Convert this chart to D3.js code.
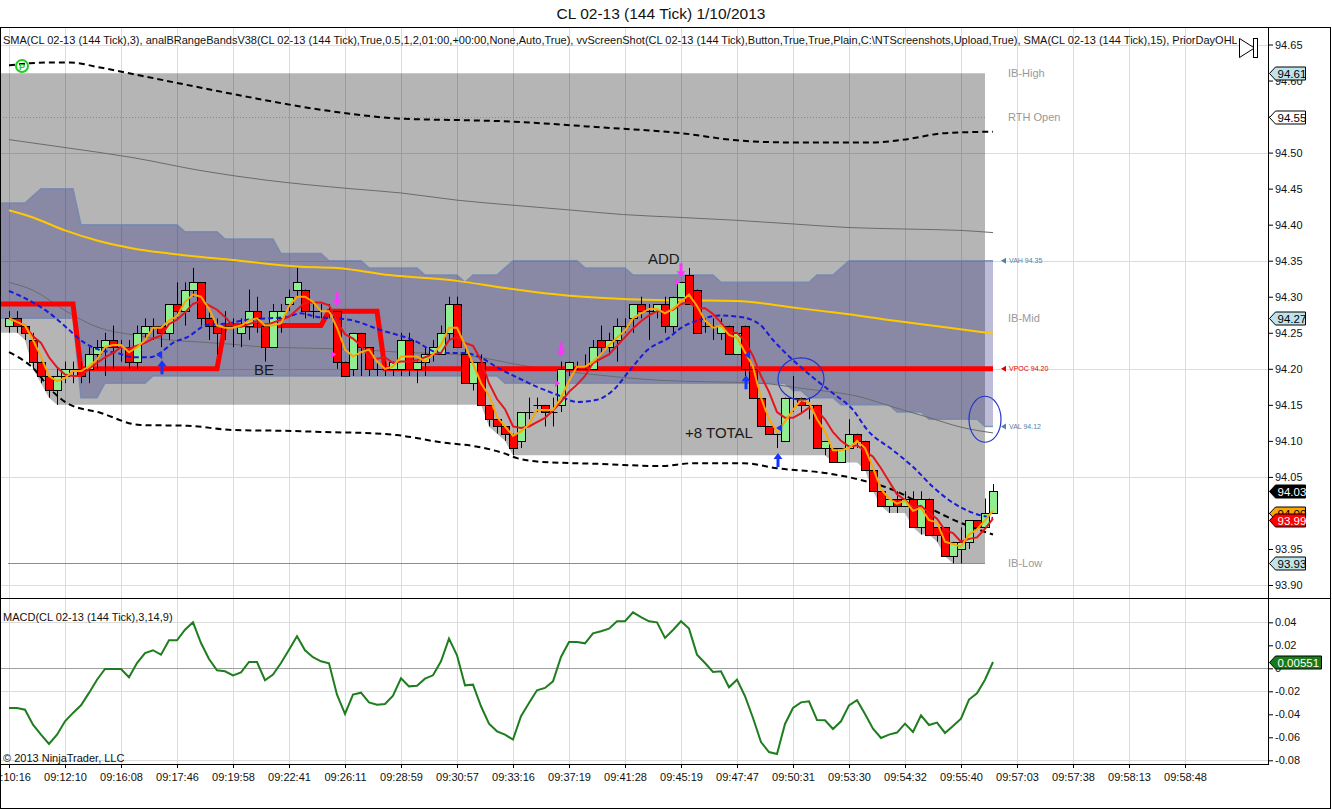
<!DOCTYPE html>
<html>
<head>
<meta charset="utf-8">
<script src="https://cdn.jsdelivr.net/npm/d3@7"></script>
<style>
  body { margin: 0; background: #fff; }
  text { font-family: "Liberation Sans", Arial, sans-serif; }
</style>
</head>
<body>
<div id="chart"></div>
<script>
// ---- data ----
var opens = [94.26,94.27,94.26,94.24,94.21,94.19,94.17,94.19,94.20,94.20, 94.20,94.22,94.23,94.24,94.23,94.23,94.21,94.25,94.26,94.26,
  94.25,94.29,94.28,94.31,94.32,94.27,94.26,94.26,94.26,94.25, 94.26,94.28,94.26,94.23,94.27,94.29,94.31,94.31,94.28,94.28,
  94.28,94.28,94.21,94.20,94.25,94.23,94.20,94.20,94.20,94.20, 94.24,94.20,94.21,94.22,94.22,94.25,94.29,94.22,94.18,94.21,
  94.15,94.13,94.12,94.11,94.10,94.14,94.15,94.15,94.14,94.15, 94.20,94.20,94.20,94.20,94.24,94.23,94.24,94.26,94.27,94.29,
  94.28,94.28,94.29,94.26,94.30,94.33,94.31,94.26,94.26,94.25, 94.26,94.22,94.26,94.20,94.16,94.12,94.11,94.10,94.16,94.16,
  94.15,94.15,94.09,94.09,94.07,94.09,94.11,94.10,94.06,94.03, 94.01,94.02,94.01,94.02,93.98,94.02,93.98,93.98,93.94,93.95,
  93.96,93.99,93.98,94.00];
var highs = [94.28,94.28,94.26,94.25,94.21,94.19,94.20,94.21,94.21,94.21, 94.23,94.24,94.25,94.26,94.24,94.24,94.26,94.27,94.27,94.26,
  94.29,94.32,94.32,94.34,94.32,94.28,94.27,94.28,94.27,94.27, 94.31,94.30,94.26,94.29,94.29,94.31,94.34,94.31,94.29,94.29,
  94.29,94.28,94.21,94.25,94.25,94.23,94.21,94.21,94.21,94.25, 94.25,94.21,94.23,94.24,94.26,94.30,94.30,94.23,94.21,94.22,
  94.15,94.13,94.12,94.11,94.14,94.16,94.16,94.15,94.16,94.21, 94.21,94.21,94.22,94.24,94.26,94.25,94.27,94.27,94.29,94.30,
  94.29,94.29,94.30,94.30,94.32,94.34,94.31,94.27,94.27,94.27, 94.26,94.25,94.26,94.20,94.16,94.12,94.11,94.16,94.19,94.16,
  94.16,94.15,94.10,94.09,94.09,94.13,94.11,94.10,94.06,94.03, 94.02,94.03,94.03,94.03,94.03,94.02,93.98,93.98,93.96,93.98,
  93.99,93.99,94.02,94.04];
var lows = [94.25,94.25,94.24,94.20,94.18,94.16,94.15,94.18,94.18,94.18, 94.18,94.20,94.19,94.20,94.21,94.20,94.20,94.24,94.24,94.23,
  94.24,94.27,94.26,94.30,94.26,94.24,94.22,94.24,94.23,94.23, 94.24,94.25,94.21,94.23,94.25,94.28,94.30,94.27,94.27,94.27,
  94.27,94.20,94.19,94.19,94.19,94.19,94.19,94.19,94.19,94.19, 94.19,94.18,94.19,94.21,94.22,94.24,94.23,94.18,94.17,94.15,
  94.12,94.11,94.10,94.08,94.09,94.13,94.14,94.12,94.12,94.14, 94.19,94.20,94.20,94.20,94.22,94.22,94.21,94.25,94.25,94.27,
  94.24,94.27,94.25,94.25,94.30,94.29,94.25,94.25,94.24,94.24, 94.22,94.22,94.19,94.16,94.12,94.11,94.09,94.10,94.14,94.14,
  94.13,94.09,94.08,94.07,94.07,94.09,94.09,94.06,94.03,94.01, 94.00,94.00,94.01,93.98,93.97,93.97,93.96,93.94,93.93,93.93,
  93.95,93.98,93.98,94.00];
var closes = [94.27,94.26,94.25,94.21,94.19,94.17,94.19,94.20,94.20,94.19, 94.22,94.23,94.24,94.23,94.23,94.21,94.25,94.26,94.26,94.25,
  94.29,94.28,94.31,94.32,94.27,94.26,94.25,94.26,94.26,94.26, 94.28,94.27,94.23,94.28,94.28,94.30,94.32,94.28,94.28,94.28,
  94.28,94.21,94.19,94.25,94.23,94.20,94.20,94.20,94.21,94.24, 94.20,94.21,94.22,94.23,94.25,94.29,94.23,94.18,94.21,94.15,
  94.13,94.12,94.11,94.09,94.14,94.14,94.15,94.14,94.14,94.20, 94.21,94.20,94.20,94.23,94.23,94.24,94.26,94.26,94.29,94.28,
  94.28,94.29,94.26,94.30,94.32,94.29,94.25,94.26,94.26,94.26, 94.22,94.25,94.20,94.16,94.12,94.11,94.11,94.16,94.16,94.15,
  94.15,94.09,94.10,94.07,94.09,94.11,94.10,94.06,94.03,94.01, 94.02,94.01,94.02,93.98,94.02,93.97,93.97,93.94,93.96,93.96,
  93.99,93.98,94.00,94.03];

// SMA(3) orange and the red short average
var smaFast = [94.270,94.265,94.260,94.240,94.217,94.190,94.183,94.187,94.197,94.197, 94.203,94.213,94.230,94.233,94.233,94.223,94.230,94.240,94.257,94.257,
  94.267,94.273,94.293,94.303,94.300,94.283,94.260,94.257,94.257,94.260, 94.267,94.270,94.260,94.260,94.263,94.287,94.300,94.300,94.293,94.280,
  94.280,94.257,94.227,94.217,94.223,94.227,94.210,94.200,94.203,94.217, 94.217,94.217,94.210,94.220,94.233,94.257,94.257,94.233,94.207,94.180,
  94.163,94.133,94.120,94.107,94.113,94.123,94.143,94.143,94.143,94.160, 94.183,94.203,94.203,94.210,94.220,94.233,94.243,94.253,94.270,94.277,
  94.283,94.283,94.277,94.283,94.293,94.303,94.287,94.267,94.257,94.260, 94.247,94.243,94.223,94.203,94.160,94.130,94.113,94.127,94.143,94.157,
  94.153,94.130,94.113,94.087,94.087,94.090,94.100,94.090,94.063,94.033, 94.020,94.013,94.017,94.003,94.007,93.990,93.987,93.960,93.957,93.953,
  93.970,93.977,93.990,94.003];
var smaRed = [94.270,94.265,94.260,94.245,94.236,94.216,94.202,94.192,94.190,94.190, 94.200,94.208,94.216,94.222,94.230,94.228,94.232,94.236,94.242,94.246,
  94.262,94.268,94.278,94.290,94.294,94.288,94.282,94.272,94.260,94.258, 94.262,94.266,94.260,94.264,94.268,94.272,94.282,94.292,94.292,94.292,
  94.288,94.266,94.248,94.242,94.232,94.216,94.214,94.216,94.208,94.210, 94.210,94.212,94.216,94.220,94.222,94.240,94.244,94.236,94.232,94.212,
  94.180,94.158,94.144,94.120,94.118,94.120,94.126,94.132,94.142,94.154, 94.168,94.178,94.190,94.208,94.214,94.220,94.232,94.244,94.256,94.266,
  94.274,94.280,94.280,94.282,94.290,94.292,94.284,94.284,94.276,94.264, 94.250,94.250,94.238,94.218,94.190,94.168,94.140,94.132,94.132,94.138,
  94.146,94.142,94.130,94.112,94.100,94.092,94.094,94.086,94.078,94.062, 94.044,94.026,94.018,94.008,94.010,94.000,93.992,93.976,93.972,93.960,
  93.964,93.966,93.978,93.992];

// smoother lines, sampled as [bar, price]
var smaBlue = [[0,94.308],[3,94.292],[5.1,94.277],[7.3,94.256],[9.3,94.237],[11.4,94.226],[13.5,94.222],[15.5,94.216],[17.6,94.216],[18.9,94.222],
  [20.5,94.236],[22.3,94.244],[24.8,94.261],[27.3,94.263],[29.8,94.268],[32.3,94.270],[34.8,94.272],[36.4,94.277],[38.5,94.272],[40.5,94.270],
  [42.6,94.268],[46.4,94.254],[50.5,94.240],[53.9,94.222],[56.8,94.222],[58.9,94.216],[61,94.202],[63.5,94.188],[66,94.175],[68.5,94.164],
  [71,94.154],[73.5,94.157],[75.5,94.170],[77.6,94.198],[79.8,94.226],[82.6,94.244],[83.9,94.256],[86.4,94.268],[88.9,94.274],[91.4,94.272],
  [93.9,94.261],[95.5,94.240],[98,94.212],[100.5,94.188],[103,94.166],[105.5,94.143],[107.3,94.115],[110.5,94.087],[113,94.064],[115.5,94.036],
  [118,94.014],[120.5,94.000],[123,93.993]];
var smaGold = [[0,94.42],[3,94.41],[7,94.392],[11,94.378],[15.5,94.367],[20,94.360],[24,94.355],[28,94.351],[32,94.346],[36,94.342],
  [41,94.340],[47.6,94.330],[56,94.322],[62,94.312],[70.5,94.301],[76.8,94.297],[84,94.295],[91,94.294],[98,94.285],[104,94.277],
  [110.5,94.267],[116.8,94.258],[123,94.249]];
var grayUpper = [[0,94.518],[7,94.507],[15.5,94.493],[24,94.475],[32,94.462],[42.6,94.450],[49,94.444],[56,94.434],[63,94.427],[70.5,94.420],
  [76.8,94.414],[84,94.410],[91,94.406],[98,94.401],[105,94.396],[111.8,94.394],[119,94.392],[123,94.389]];
var grayLower = [[0,94.320],[3,94.309],[7,94.281],[11,94.258],[15.5,94.247],[20,94.240],[24,94.237],[28,94.234],[32,94.230],[36,94.229],
  [42.6,94.227],[49,94.223],[57,94.219],[64,94.205],[74,94.191],[81.4,94.184],[94,94.180],[99,94.173],[106.4,94.161],[110.5,94.147],
  [114.8,94.133],[119,94.119],[123,94.111]];
var bandUpper = [[0,94.621],[2.6,94.624],[5,94.625],[7.6,94.625],[11.4,94.618],[16.4,94.607],[24,94.590],[30,94.577],[36.4,94.564],[42.6,94.554],
  [49,94.547],[56.8,94.545],[63,94.543],[68.9,94.539],[74,94.535],[84,94.527],[91,94.517],[98,94.514],[108,94.514],[111.8,94.518],
  [117,94.527],[123,94.529]];
var bandLower = [[0,94.223],[3,94.201],[5.5,94.168],[7.3,94.152],[11.4,94.139],[16.4,94.122],[22.3,94.121],[28,94.115],[34.3,94.114],[40.5,94.112],
  [44.3,94.111],[48.5,94.108],[54,94.098],[59,94.091],[61.8,94.083],[63.5,94.076],[66.4,94.071],[74,94.068],[81.4,94.065],[85.5,94.069],
  [91.8,94.069],[96,94.062],[102.3,94.055],[106.4,94.046],[110.5,94.032],[114.8,94.008],[119,93.986],[123,93.970]];

// range bands: steps as [first bar, value]
var ibHigh = 94.61;
var ibLowSteps = [[0,94.25],[2,94.24],[3,94.20],[4,94.18],[5,94.16],[6,94.15],[60,94.12],[61,94.11],[62,94.10],[63,94.08],
  [103,94.07],[107,94.06],[108,94.03],[109,94.01],[110,94.00],[113,93.98],[114,93.97],[116,93.96],[117,93.94],[118,93.93]];
var vahSteps = [[0,94.43],[3,94.44],[4,94.45],[9,94.40],[22,94.39],[27,94.38],[34,94.36],[40,94.35],[45,94.34],[52,94.33],
  [57,94.32],[58,94.33],[62,94.34],[63,94.35],[72,94.34],[78,94.33],[89,94.32],[101,94.33],[104,94.34],[105,94.35]];
var valSteps = [[0,94.27],[9,94.16],[12,94.18],[18,94.19],[62,94.18],[98,94.17],[100,94.16],[104,94.15],[111,94.14],[115,94.13],[122,94.12]];
var vpocSteps = [[0,94.29],[9,94.20],[27,94.26],[40,94.28],[47,94.20]];

var macdVals = [-0.0345,-0.0345,-0.036,-0.049,-0.0577,-0.0658,-0.0577,-0.0461,-0.0388,-0.0322,
  -0.0214,-0.0099,-0.0006,-0.0006,-0.0006,-0.0078,0.0046,0.0133,0.0157,0.0119,
  0.0243,0.0243,0.0336,0.040,0.022,0.0081,-0.0017,-0.0026,-0.0061,-0.0035,
  0.0055,0.0055,-0.0104,-0.0055,0.0046,0.0162,0.0278,0.0157,0.0096,0.0061,
  0.0043,-0.0229,-0.0397,-0.0229,-0.0212,-0.0296,-0.0316,-0.031,-0.0238,-0.0087,
  -0.0157,-0.0151,-0.009,-0.0061,0.0061,0.0258,0.0113,-0.0148,-0.0142,-0.033,
  -0.0481,-0.0548,-0.0577,-0.062,-0.0417,-0.0301,-0.0191,-0.0171,-0.0113,0.0099,
  0.0229,0.0229,0.0217,0.0304,0.0322,0.0345,0.0409,0.0409,0.0487,0.0446,
  0.0409,0.040,0.0264,0.0333,0.0409,0.0345,0.0119,0.0046,-0.0032,-0.0026,
  -0.0165,-0.0099,-0.0243,-0.0432,-0.0641,-0.0728,-0.0745,-0.0484,-0.0345,-0.0296,
  -0.0287,-0.0449,-0.0452,-0.0528,-0.0461,-0.0322,-0.0278,-0.0397,-0.0525,-0.0606,
  -0.0577,-0.0559,-0.0481,-0.0554,-0.0409,-0.0493,-0.0472,-0.0562,-0.0501,-0.0438,
  -0.0272,-0.0217,-0.0099,0.00551];

var timeLabels = ["09:10:16","09:12:10","09:16:08","09:17:46","09:19:58","09:22:41","09:26:11","09:28:59","09:30:57","09:33:16","09:37:19",
  "09:41:28","09:45:19","09:47:47","09:50:31","09:53:30","09:54:32","09:55:40","09:57:03","09:57:38","09:58:13","09:58:48"];
var timeTickBars = timeLabels.map(function(d, i) { return i * 7; });
var priceTicks = [93.90,93.95,94.00,94.05,94.10,94.15,94.20,94.25,94.30,94.35,94.40,94.45,94.50,94.55,94.60,94.65];
var priceGrid = [93.90,94.05,94.20,94.35,94.50,94.65];
var macdTicks = [-0.08,-0.06,-0.04,-0.02,0,0.02,0.04];
var macdGrid = [-0.08,-0.02,0.04];

var pinkArrowBars = [41, 69, 84];
var pinkFillPrices = [94.22, 94.18, 94.32];
var blueArrowBars = [19, 92, 96];
var blueArrowTops = [94.212, 94.191, 94.083];
var blueFillMarks = [[18.9, 94.219], [92.4, 94.219], [96.4, 94.118]];
var circleMarks = [[99, 94.186], [122, 94.13]];

// ---- layout ----
var axisX = 1268, mainTop = 28, mainBottom = 598, macdBottom = 764;

var svg = d3.select("#chart").append("svg")
  .attr("width", 1332).attr("height", 810)
  .style("display", "block");

svg.append("rect").attr("width", 1332).attr("height", 810).attr("fill", "#fff");

var x = d3.scaleLinear().domain([0, 123]).range([9, 993]);
var y = d3.scaleLinear().domain([93.90, 94.65]).range([585, 44.5]);
var ym = d3.scaleLinear().domain([-0.08, 0.04]).range([760.3, 622.3]);

var defs = svg.append("defs");
defs.append("clipPath").attr("id", "clipMain").append("rect")
  .attr("x", 0).attr("y", mainTop).attr("width", axisX).attr("height", mainBottom - mainTop);
defs.append("clipPath").attr("id", "clipMacd").append("rect")
  .attr("x", 0).attr("y", mainBottom).attr("width", axisX).attr("height", macdBottom - mainBottom);

function stepAt(steps, i) {
  var v = steps[0][1];
  steps.forEach(function(s) { if (s[0] <= i) v = s[1]; });
  return v;
}
function crisp(v) { return Math.round(v) + 0.5; }

// title
svg.append("text").attr("x", 661).attr("y", 19).attr("text-anchor", "middle")
  .attr("font-size", 15.5).attr("fill", "#111").text("CL 02-13 (144 Tick)  1/10/2013");

// vertical grid through both panels
svg.append("g").selectAll("line").data(timeTickBars).join("line")
  .attr("x1", function(d) { return crisp(x(d)); }).attr("x2", function(d) { return crisp(x(d)); })
  .attr("y1", mainTop).attr("y2", macdBottom)
  .attr("stroke", "#dcdcdc").attr("stroke-width", 1);

var main = svg.append("g").attr("clip-path", "url(#clipMain)");

main.selectAll(".hgrid").data(priceGrid).join("line").attr("class", "hgrid")
  .attr("x1", 0).attr("x2", axisX)
  .attr("y1", function(d) { return crisp(y(d)); }).attr("y2", function(d) { return crisp(y(d)); })
  .attr("stroke", "#dcdcdc");

// initial balance box
var ibPts = [-1.125].concat(d3.range(0, 123));
main.append("path")
  .attr("d", d3.area()
    .x(function(d) { return x(d); })
    .y0(function(d) { return y(stepAt(ibLowSteps, Math.max(0, d))); })
    .y1(y(ibHigh))(ibPts))
  .attr("fill", "rgba(0,0,0,0.29)");

// RTH open dotted and IB low line
main.append("line").attr("x1", 0).attr("x2", x(122))
  .attr("y1", crisp(y(94.55))).attr("y2", crisp(y(94.55)))
  .attr("stroke", "#777").attr("stroke-dasharray", "1,2").attr("opacity", 0.7);
main.append("line").attr("x1", 8).attr("x2", x(122))
  .attr("y1", crisp(y(93.93))).attr("y2", crisp(y(93.93)))
  .attr("stroke", "#8c8c8c");

// value area band
var vaPts = [-1.125].concat(d3.range(0, 124));
main.append("path")
  .attr("d", d3.area()
    .x(function(d) { return x(d); })
    .y0(function(d) { return y(stepAt(valSteps, Math.max(0, d))); })
    .y1(function(d) { return y(stepAt(vahSteps, Math.max(0, d))); })(vaPts))
  .attr("fill", "rgba(39,39,129,0.31)");
[vahSteps, valSteps].forEach(function(st) {
  main.append("path")
    .attr("d", d3.line().x(function(d) { return x(d); })
      .y(function(d) { return y(stepAt(st, Math.max(0, d))); })(vaPts))
    .attr("fill", "none").attr("stroke", "#6f86b0").attr("stroke-width", 1.5).attr("opacity", 0.8);
});

var smooth = d3.line().x(function(d) { return x(d[0]); }).y(function(d) { return y(d[1]); }).curve(d3.curveMonotoneX);

main.append("path").attr("d", smooth(grayUpper)).attr("fill", "none").attr("stroke", "#6b6b6b").attr("stroke-width", 1);
main.append("path").attr("d", smooth(grayLower)).attr("fill", "none").attr("stroke", "#6b6b6b").attr("stroke-width", 1);
main.append("path").attr("d", smooth(smaGold)).attr("fill", "none").attr("stroke", "#ffc800").attr("stroke-width", 2);
main.append("path").attr("d", smooth(bandUpper)).attr("fill", "none").attr("stroke", "#000")
  .attr("stroke-width", 2).attr("stroke-dasharray", "6,4");
main.append("path").attr("d", smooth(bandLower)).attr("fill", "none").attr("stroke", "#000")
  .attr("stroke-width", 2).attr("stroke-dasharray", "6,4");

// developing POC
main.append("path")
  .attr("d", d3.line().x(function(d) { return x(d); })
    .y(function(d) { return y(stepAt(vpocSteps, Math.max(0, d))); })(vaPts))
  .attr("fill", "none").attr("stroke", "#ff0000").attr("stroke-width", 5);

// candles
var bars = d3.range(opens.length);
var candles = main.append("g");
candles.selectAll(".wick").data(bars).join("line").attr("class", "wick")
  .attr("x1", function(i) { return crisp(x(i)); }).attr("x2", function(i) { return crisp(x(i)); })
  .attr("y1", function(i) { return y(highs[i]); }).attr("y2", function(i) { return y(lows[i]); })
  .attr("stroke", "#000").attr("stroke-width", 1);
candles.selectAll(".body").data(bars.filter(function(i) { return opens[i] !== closes[i]; })).join("rect").attr("class", "body")
  .attr("x", function(i) { return Math.round(x(i)) - 3.5; })
  .attr("width", 8)
  .attr("y", function(i) { return crisp(y(Math.max(opens[i], closes[i]))); })
  .attr("height", function(i) { return Math.max(1, Math.round(y(Math.min(opens[i], closes[i]))) - Math.round(y(Math.max(opens[i], closes[i])))); })
  .attr("fill", function(i) { return closes[i] > opens[i] ? "#90ee90" : "#ff0000"; })
  .attr("stroke", "#000").attr("stroke-width", 1);
candles.selectAll(".doji").data(bars.filter(function(i) { return opens[i] === closes[i]; })).join("line").attr("class", "doji")
  .attr("x1", function(i) { return Math.round(x(i)) - 3.5; }).attr("x2", function(i) { return Math.round(x(i)) + 4.5; })
  .attr("y1", function(i) { return crisp(y(opens[i])); }).attr("y2", function(i) { return crisp(y(opens[i])); })
  .attr("stroke", "#000");

// moving averages over bars
main.append("path").attr("d", smooth(smaBlue)).attr("fill", "none").attr("stroke", "#1a1ad8")
  .attr("stroke-width", 2).attr("stroke-dasharray", "5,3");
var perBar = d3.line().x(function(d, i) { return x(i); }).y(function(d) { return y(d); });
main.append("path").attr("d", perBar(smaRed)).attr("fill", "none").attr("stroke", "#e8141c").attr("stroke-width", 2);
main.append("path").attr("d", perBar(smaFast)).attr("fill", "none").attr("stroke", "#ffa500").attr("stroke-width", 2);

// trade markers
pinkArrowBars.forEach(function(b, k) {
  var cx = x(b), tip = y(highs[b]) - 5;
  main.append("path")
    .attr("d", "M" + (cx - 1.5) + "," + (tip - 14) + "h3v8h3l-4.5,6l-4.5,-6h3z")
    .attr("fill", "#ff33ff");
  var py = y(pinkFillPrices[k]);
  main.append("path").attr("d", "M" + (cx - 6) + "," + (py - 4) + "l5,4l-5,4z").attr("fill", "#ff33ff");
});
blueArrowBars.forEach(function(b, k) {
  var cx = x(b) + 1, top = y(blueArrowTops[k]);
  main.append("path")
    .attr("d", "M" + cx + "," + top + "l4.5,6h-3v8h-3v-8h-3z")
    .attr("fill", "#1733ff");
});
blueFillMarks.forEach(function(m) {
  var cx = x(m[0]), cy = y(m[1]);
  main.append("path").attr("d", "M" + (cx - 4) + "," + cy + "l6,-4l0,8z").attr("fill", "#1733ff");
});
circleMarks.forEach(function(m, k) {
  main.append("ellipse").attr("cx", x(m[0])).attr("cy", y(m[1]))
    .attr("rx", k === 0 ? 23 : 16).attr("ry", k === 0 ? 21 : 23)
    .attr("fill", "none").attr("stroke", "#2233cc").attr("stroke-width", 1.2);
});

// chart notes
var notes = [["ADD", 648, 264], ["BE", 254, 375], ["+8 TOTAL", 685, 438]];
main.selectAll(".note").data(notes).join("text").attr("class", "note")
  .attr("x", function(d) { return d[1]; }).attr("y", function(d) { return d[2]; })
  .attr("font-size", 15).attr("fill", "#1a1a1a").text(function(d) { return d[0]; });

// prior day marker
main.append("circle").attr("cx", 22).attr("cy", 66).attr("r", 6).attr("fill", "none")
  .attr("stroke", "#22cc22").attr("stroke-width", 2);
main.append("text").attr("x", 22).attr("y", 69.5).attr("text-anchor", "middle")
  .attr("font-size", 9).attr("font-weight", "bold").attr("fill", "#22cc22").text("P");

// right-hand level labels
var levelLabels = [["IB-High", 94.61], ["RTH Open", 94.55], ["IB-Mid", 94.27], ["IB-Low", 93.93]];
main.selectAll(".lvl").data(levelLabels).join("text").attr("class", "lvl")
  .attr("x", 1008).attr("y", function(d) { return y(d[1]) + 4; })
  .attr("font-size", 11).attr("fill", "#999").text(function(d) { return d[0]; });
var vaLabels = [["VAH 94.35", 94.35, "#5a7da8"], ["VPOC 94.20", 94.20, "#e00000"], ["VAL 94.12", 94.12, "#5a7da8"]];
vaLabels.forEach(function(d) {
  var yy = y(d[1]);
  main.append("path").attr("d", "M1001," + yy + "l5,-3v6z").attr("fill", d[2]);
  main.append("text").attr("x", 1009).attr("y", yy + 2.5).attr("font-size", 7).attr("fill", d[2]).text(d[0]);
});

// indicator caption, stopping at the screenshot button
defs.append("clipPath").attr("id", "clipCaption").append("rect")
  .attr("x", 0).attr("y", 30).attr("width", 1237).attr("height", 20);
main.append("text").attr("x", 3).attr("y", 44).attr("font-size", 11).attr("fill", "#111")
  .attr("clip-path", "url(#clipCaption)")
  .text("SMA(CL 02-13 (144 Tick),3), analBRangeBandsV38(CL 02-13 (144 Tick),True,0.5,1,2,01:00,+00:00,None,Auto,True), vvScreenShot(CL 02-13 (144 Tick),Button,True,True,Plain,C:\\NTScreenshots,Upload,True), SMA(CL 02-13 (144 Tick),15), PriorDayOHLC(CL 02-13 (144 Tick))");
main.append("path").attr("d", "M1239.5,38.5V57.5L1254.5,48Z").attr("fill", "#fff").attr("stroke", "#000");
main.append("rect").attr("x", 1253.5).attr("y", 38.5).attr("width", 4).attr("height", 19).attr("fill", "#fff").attr("stroke", "#000");

// ---- MACD panel ----
var macdG = svg.append("g").attr("clip-path", "url(#clipMacd)");
macdG.selectAll(".mgrid").data(macdGrid).join("line").attr("class", "mgrid")
  .attr("x1", 0).attr("x2", axisX)
  .attr("y1", function(d) { return crisp(ym(d)); }).attr("y2", function(d) { return crisp(ym(d)); })
  .attr("stroke", "#dcdcdc");
macdG.append("line").attr("x1", 0).attr("x2", axisX)
  .attr("y1", crisp(ym(0))).attr("y2", crisp(ym(0))).attr("stroke", "#a0a0a0");
macdG.append("path")
  .attr("d", d3.line().x(function(d, i) { return x(i); }).y(function(d) { return ym(d); })(macdVals))
  .attr("fill", "none").attr("stroke", "#1e7d1e").attr("stroke-width", 2);
macdG.append("text").attr("x", 3).attr("y", 621).attr("font-size", 11).attr("fill", "#111")
  .text("MACD(CL 02-13 (144 Tick),3,14,9)");
macdG.append("text").attr("x", 3).attr("y", 762).attr("font-size", 11).attr("fill", "#111")
  .text("\u00a9 2013 NinjaTrader, LLC");

// ---- axes ----
// tick labels hidden behind a flag are left out
var flagged = [94.55];
var yAxis = svg.append("g").attr("transform", "translate(" + axisX + ",0)")
  .call(d3.axisRight(y).tickValues(priceTicks).tickSize(5).tickSizeOuter(0).tickPadding(2)
    .tickFormat(function(d) { return flagged.indexOf(d) >= 0 ? "" : d.toFixed(2); }));
yAxis.select(".domain").remove();
var mAxis = svg.append("g").attr("transform", "translate(" + axisX + ",0)")
  .call(d3.axisRight(ym).tickValues(macdTicks).tickSize(5).tickSizeOuter(0).tickPadding(2)
    .tickFormat(function(d) { return d === 0 ? "0" : d.toFixed(2); }));
mAxis.select(".domain").remove();
var xAxis = svg.append("g").attr("transform", "translate(0," + macdBottom + ")")
  .call(d3.axisBottom(x).tickValues(timeTickBars).tickSize(4).tickSizeOuter(0).tickPadding(5)
    .tickFormat(function(d, i) { return timeLabels[i]; }));
xAxis.select(".domain").remove();
[yAxis, mAxis, xAxis].forEach(function(a) {
  a.attr("font-family", "'Liberation Sans', Arial, sans-serif").attr("font-size", 11);
  a.selectAll("text").attr("fill", "#111");
});

// frame lines
svg.append("line").attr("x1", 0).attr("x2", 1331).attr("y1", 27.5).attr("y2", 27.5).attr("stroke", "#000");
svg.append("line").attr("x1", 0).attr("x2", 1331).attr("y1", 598.5).attr("y2", 598.5).attr("stroke", "#000");
svg.append("line").attr("x1", 0).attr("x2", axisX).attr("y1", macdBottom + 0.5).attr("y2", macdBottom + 0.5).attr("stroke", "#000");
svg.append("line").attr("x1", axisX + 0.5).attr("x2", axisX + 0.5).attr("y1", 27).attr("y2", macdBottom + 1).attr("stroke", "#000");
svg.append("line").attr("x1", 0.5).attr("x2", 0.5).attr("y1", 27).attr("y2", 809).attr("stroke", "#000");
svg.append("line").attr("x1", 1330.5).attr("x2", 1330.5).attr("y1", 27).attr("y2", 809).attr("stroke", "#000");
svg.append("line").attr("x1", 0).attr("x2", 1331).attr("y1", 808.5).attr("y2", 808.5).attr("stroke", "#000");

// price flags
function flag(yy, label, fill, textFill, w) {
  var g = svg.append("g");
  var yc = Math.round(yy) + 0.5;
  g.append("path")
    .attr("d", "M1269.5," + yc + "L1275.5," + (yc - 6.5) + "H" + (1275.5 + w) + "V" + (yc + 6.5) + "H1275.5Z")
    .attr("fill", fill).attr("stroke", "#000").attr("stroke-width", 1);
  g.append("text").attr("x", 1277.5).attr("y", yc + 4).attr("font-size", 11.5)
    .attr("fill", textFill).text(label);
}
flag(y(94.61), "94.61", "#bfe3ea", "#000", 30);
flag(y(94.55), "94.55", "#fff", "#000", 30);
flag(y(94.27), "94.27", "#bfe3ea", "#000", 30);
flag(y(closes[closes.length - 1]), closes[closes.length - 1].toFixed(2), "#000", "#fff", 30);
flag(y(94.00), "94.00", "#ffa500", "#000", 30);
flag(y(93.99), "93.99", "#ff0000", "#fff", 30);
flag(y(93.93), "93.93", "#bfe3ea", "#000", 30);
flag(ym(macdVals[macdVals.length - 1]), "0.00551", "#1a7a1a", "#fff", 46);
</script>
</body>
</html>
